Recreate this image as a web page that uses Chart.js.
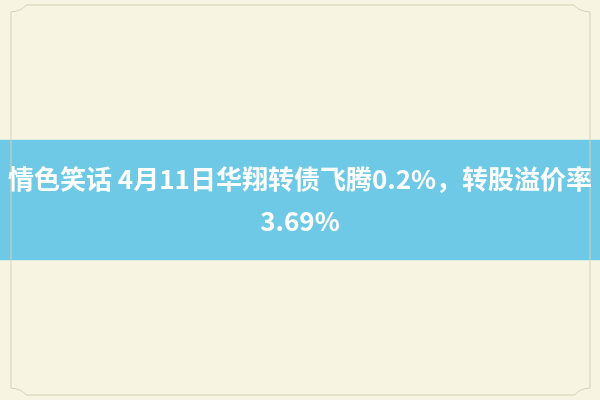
<!DOCTYPE html>
<html>
<head>
<meta charset="utf-8">
<script src="https://cdn.jsdelivr.net/npm/chart.js@4"></script>
<style>
  html, body { margin: 0; padding: 0; }
  body { width: 600px; height: 400px; background: #f7f4e2; overflow: hidden; }
  #wrap { position: relative; width: 600px; height: 400px; }
  #frame { position: absolute; left: 0; top: 0; }
  #title {
    position: absolute; left: 0; top: 157px; width: 600px;
    text-align: center; color: #fff;
    font-family: "Noto Sans CJK SC", "Noto Sans", sans-serif;
    font-weight: bold; font-size: 26px; line-height: 42px;
  }
  #title div { white-space: nowrap; }
</style>
</head>
<body>
<div id="wrap">
  <canvas id="band" width="600" height="400"></canvas>
  <svg id="frame" width="600" height="400">
    <path d="M26 5 L574 5 Q578 11 590 12 L590 388 Q578 389 575 395 L26 395 Q22 389 11 388 L11 12 Q22 11 26 5 Z"
          fill="none" stroke="#d6d1b2" stroke-width="1"/>
  </svg>
  <div id="title"></div>
</div>
<script>
// données
const categories = ['bandeau'];
const bandRange = [140, 260];   // haut / bas du bandeau (px)
const titleLines = ['情色笑话 4月11日华翔转债飞腾0.2%，转股溢价率', '3.69%'];

// titre
const titleEl = document.getElementById('title');
titleLines.forEach(t => {
  const d = document.createElement('div');
  d.textContent = t;
  titleEl.appendChild(d);
});

// bandeau bleu = barre flottante
new Chart(document.getElementById('band'), {
  type: 'bar',
  data: {
    labels: categories,
    datasets: [{
      data: [bandRange],
      backgroundColor: '#6dc9e5',
      borderWidth: 0,
      barPercentage: 1,
      categoryPercentage: 1
    }]
  },
  options: {
    responsive: false,
    animation: false,
    layout: { padding: 0 },
    plugins: { legend: { display: false }, tooltip: { enabled: false } },
    scales: {
      x: { display: false, offset: true },
      y: { display: false, min: 0, max: 400, reverse: true }
    }
  }
});
</script>
</body>
</html>
